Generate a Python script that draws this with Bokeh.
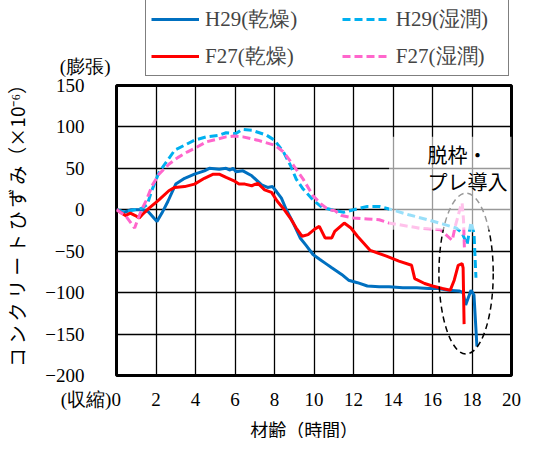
from bokeh.plotting import figure
from bokeh.layouts import column
from bokeh.models import Range1d, FixedTicker, Legend, LegendItem, Label, BoxAnnotation
from bokeh.embed import file_html
from bokeh.resources import INLINE

# ---------------- data ----------------
x_ticks = [0, 2, 4, 6, 8, 10, 12, 14, 16, 18, 20]
y_ticks = [-200, -150, -100, -50, 0, 50, 100, 150]
x_tick_text = {0: "(収縮)0\u3000\u3000\u2002\u2009"}

h29_dry_x = [0, 0.4, 0.75, 1.3, 1.6, 2.05, 2.3, 2.6, 3.0, 3.45, 3.95, 4.45, 4.7, 5.2, 5.55, 5.75,
             5.9, 6.05, 6.4, 6.85, 7.35, 7.65, 7.9, 8.1, 8.35, 8.6, 8.95, 9.3, 9.6, 9.95, 10.3,
             10.6, 10.9, 11.4, 11.75, 12.2, 12.7, 13.3, 13.8, 14.5, 15.2, 15.8, 16.3, 16.8,
             17.35, 17.55, 17.68, 17.95, 18.1, 18.25]
h29_dry_y = [0, -3, 0, 0, -2, -14, -4, 10, 31, 38, 43, 47, 50, 49, 50, 48,
             50, 46, 47, 41, 30, 27, 28, 22, 14, 0, -16, -34, -43, -54, -60,
             -65, -70, -78, -85, -88, -92, -93, -93, -94, -94, -95, -95, -97,
             -98, -100, -115, -97, -103, -165]

h29_wet_x = [0, 0.4, 0.75, 1.3, 1.55, 1.8, 2.15, 2.5, 2.95, 3.45, 3.95, 4.55, 5.2, 5.55, 5.95,
             6.05, 6.35, 6.85, 7.6, 8.0, 8.45, 8.8, 9.1, 9.45, 9.95, 10.4, 10.75, 11.05, 11.5,
             12.0, 12.7, 13.3, 13.95, 14.8, 15.75, 16.5, 17.2, 17.5, 17.75, 17.95, 18.1, 18.2]
h29_wet_y = [0, -3, -1, 2, 6, 24, 45, 57, 72, 78, 84, 88, 90, 93, 92,
             92, 97, 96, 90, 84, 70, 54, 37, 25, 12, 3, 1, -1, -3,
             0, 4, 4, 0, -6, -12, -17, -22, -28, -42, -15, -28, -82]

f27_dry_x = [0, 0.45, 0.7, 0.95, 1.15, 1.3, 1.65, 2.15, 2.65, 2.95, 3.45, 3.95, 4.45, 4.9, 5.2,
             5.55, 5.95, 6.2, 6.5, 6.85, 7.15, 7.5, 7.85, 8.15, 8.5, 8.8, 9.1, 9.4, 9.7, 10.05,
             10.27, 10.56, 10.9, 11.05, 11.53, 11.87, 12.2, 12.85, 13.67, 14.3, 14.94, 15.1,
             15.6, 16.0, 16.5, 16.9, 17.1, 17.3, 17.5, 17.55, 17.6]
f27_dry_y = [0, -7, -4, -7, -10, -6, 2, 12, 23, 27, 28, 31, 38, 43, 43,
             39, 35, 31, 31, 29, 32, 24, 21, 10, 0, -10, -22, -32, -30, -23,
             -20, -34, -34, -26, -16, -22, -32, -49, -56, -62, -67, -83,
             -89, -92, -95, -97, -85, -67, -65, -70, -138]

f27_wet_x = [0, 0.45, 0.8, 0.92, 1.07, 1.27, 1.5, 1.8, 2.15, 2.65, 3.1, 3.6, 4.1, 4.55, 5.05,
             5.55, 5.95, 6.4, 7.15, 8.0, 8.45, 8.95, 9.45, 9.95, 10.4, 10.75, 11.05, 11.4, 12.0,
             12.7, 13.3, 13.8, 14.3, 15.3, 15.8, 16.4, 17.0, 17.15, 17.45, 17.5, 17.57, 17.62]
f27_wet_y = [0, -7, -18, -22, -12, 0, 11, 29, 43, 55, 63, 70, 76, 82, 85,
             88, 89, 88, 84, 78, 70, 54, 37, 17, 6, 0, -1, -7, -10,
             -11, -12, -16, -18, -22, -23, -24, -37, -20, 6, 8, -12, -50]

series_labels = ["H29(乾燥)", "H29(湿潤)", "F27(乾燥)", "F27(湿潤)"]
series_colors = ["#0070C0", "#00B0F0", "#FF0000", "#FF66CC"]
series_dash = ["solid", "8 4", "solid", "8 4"]
series_x = [h29_dry_x, h29_wet_x, f27_dry_x, f27_wet_x]
series_y = [h29_dry_y, h29_wet_y, f27_dry_y, f27_wet_y]

# annotation geometry (data units)
ellipse_center = (17.7, -77)
ellipse_size = (2.75, 194)
note_box = dict(left=13.8, right=20.15, top=88, bottom=-24)

SERIF = "Liberation Serif"
JP = "Noto Sans CJK JP"
W, TOP_H, MAIN_H, BOT_H = 531, 77, 342, 19
BL, BR = 108, 20

# ---------------- header strip: legend + "(膨張)" ----------------
top = figure(width=W, height=TOP_H, x_range=Range1d(0, 20), y_range=Range1d(0, TOP_H),
             x_axis_type=None, output_backend="svg", toolbar_location=None,
             min_border_left=BL, min_border_right=BR, min_border_top=0, min_border_bottom=0,
             outline_line_color=None)
top.background_fill_color = "white"
top.border_fill_color = "white"
top.ygrid.visible = False
top.yaxis.ticker = FixedTicker(ticks=[11])
top.yaxis.major_label_overrides = {11: "(膨張)"}
top.yaxis.major_label_standoff = 0
top.yaxis.axis_line_color = None
top.yaxis.major_tick_line_color = None
top.yaxis.minor_tick_line_color = None
top.yaxis.major_label_text_font = SERIF
top.yaxis.major_label_text_font_size = "19px"
top.yaxis.major_label_text_color = "black"

proxies = [top.line(sx[:1], sy[:1], line_color=c, line_width=3, line_dash=d)
           for sx, sy, c, d in zip(series_x, series_y, series_colors, series_dash)]
pad1 = "\u3000\u2002\u2009"
pad2 = "\u2002\u2009"
legend = Legend(items=[LegendItem(label=series_labels[0] + pad1, renderers=[proxies[0]]),
                       LegendItem(label=series_labels[2] + pad1, renderers=[proxies[2]]),
                       LegendItem(label=series_labels[1] + pad2, renderers=[proxies[1]]),
                       LegendItem(label=series_labels[3] + pad2, renderers=[proxies[3]])],
                location=(29, 1), ncols=2,
                label_text_font=SERIF, label_text_font_size="21px",
                glyph_width=48, glyph_height=20, label_height=20, label_standoff=6,
                label_width=20, spacing=9, padding=5, margin=0,
                border_line_color="black", border_line_width=1,
                background_fill_color="white", background_fill_alpha=1)
top.add_layout(legend, "center")

# ---------------- main chart ----------------
p = figure(width=W, height=MAIN_H, x_range=Range1d(0, 20), y_range=Range1d(-200, 150),
           output_backend="svg", toolbar_location=None,
           min_border_left=BL, min_border_right=BR, min_border_top=8, min_border_bottom=44)
p.background_fill_color = "white"
p.border_fill_color = "white"
p.outline_line_color = "black"
p.outline_line_width = 3

for ax, ticks in ((p.xaxis, x_ticks), (p.yaxis, y_ticks)):
    ax.ticker = FixedTicker(ticks=ticks)
    ax.axis_line_color = None
    ax.major_tick_line_color = None
    ax.minor_tick_line_color = None
    ax.major_label_text_font = SERIF
    ax.major_label_text_font_size = "19px"
    ax.major_label_text_color = "black"

p.xaxis.major_label_overrides = x_tick_text
p.xaxis.major_label_standoff = 7
p.yaxis.major_label_standoff = 26
p.yaxis.axis_label = ("\u3000コ\u2009ン\u2009ク\u2009リ\u2009ー\u2009ト\u2009ひ\u2009ず"
                      "\u2009み（×10⁻⁶）")
p.yaxis.axis_label_text_font = JP
p.yaxis.axis_label_text_font_style = "normal"
p.yaxis.axis_label_text_color = "black"
p.yaxis.axis_label_text_font_size = "19px"
p.yaxis.axis_label_standoff = 12

p.xgrid.ticker = FixedTicker(ticks=x_ticks)
p.ygrid.ticker = FixedTicker(ticks=y_ticks)
for g in (p.xgrid, p.ygrid):
    g.grid_line_color = "black"
    g.grid_line_width = 1.3

for sx, sy, c, d in zip(series_x, series_y, series_colors, series_dash):
    p.line(sx, sy, line_color=c, line_width=3, line_dash=d)

p.ellipse(x=[ellipse_center[0]], y=[ellipse_center[1]], width=[ellipse_size[0]],
          height=[ellipse_size[1]], fill_color=None, line_color="black", line_width=1.5,
          line_dash="6 4")

p.add_layout(BoxAnnotation(fill_color="white", fill_alpha=0.6, line_color=None, **note_box))

p.add_layout(Label(x=15.75, y=67, text="脱枠・", text_font=JP, text_font_size="20px",
                   text_baseline="middle", text_color="black"))
p.add_layout(Label(x=15.75, y=34, text="プレ導入", text_font=JP, text_font_size="20px",
                   text_baseline="middle", text_color="black"))

# ---------------- footer strip: x-axis title ----------------
bot = figure(width=W, height=BOT_H, x_range=Range1d(0, 20), y_range=Range1d(0, BOT_H),
             x_axis_type=None, y_axis_type=None, output_backend="svg", toolbar_location=None,
             min_border_left=BL, min_border_right=BR, min_border_top=0, min_border_bottom=0,
             outline_line_color=None)
bot.background_fill_color = "white"
bot.border_fill_color = "white"
bot.add_layout(Label(x=9.5, y=BOT_H / 2, text="材齢（時間）", text_font=JP, text_font_size="18px",
                     text_baseline="middle", text_align="center", text_color="black"))

layout = column(top, p, bot, spacing=0)
open("out.html", "w").write(file_html(layout, INLINE))
